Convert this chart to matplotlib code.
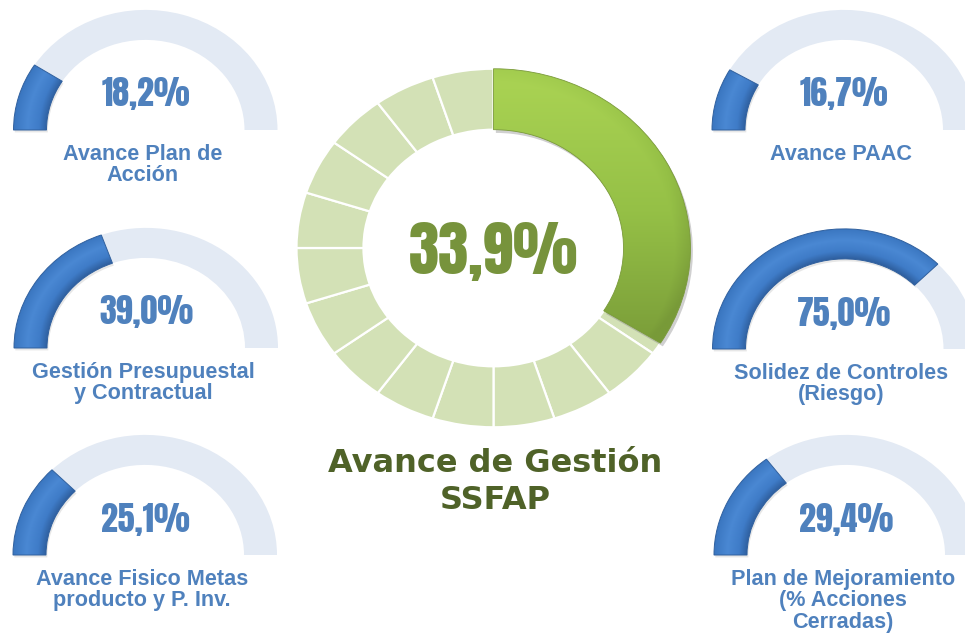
import numpy as np
import matplotlib
matplotlib.use("Agg")
import matplotlib.pyplot as plt
from matplotlib import font_manager as fm
from matplotlib.colors import LinearSegmentedColormap

# --- data ---------------------------------------------------------------
gauge_labels = ["Avance Plan de\nAcción",
                "Gestión Presupuestal\ny Contractual",
                "Avance Fisico Metas\nproducto y P. Inv.",
                "Avance PAAC",
                "Solidez de Controles\n(Riesgo)",
                "Plan de Mejoramiento\n(% Acciones\nCerradas)"]
gauge_values = [18.2, 39.0, 25.1, 16.7, 75.0, 29.4]

total_label = "Avance de Gestión\nSSFAP"
total_value = 33.9
n_segments = 20

# --- layout (pixels) ------------------------------------------------------
W, H = 965, 633
gauge_cx = [145.5, 146, 145, 844, 844.5, 846]
gauge_base = [130, 348, 555, 130, 349, 555]
R_gauge = 132
squash = 0.91

blue_txt = "#4F81BD"
gauge_bg = "#E3EAF4"
light_green = "#D3E1B6"

# condensed heavy face for the numbers (Impact look-alike if available)
installed = {f.name for f in fm.fontManager.ttflist}
num_font, num_weight = "DejaVu Sans", "bold"
for name, wt in [("Anton", "normal"), ("Oswald", "bold"),
                 ("Roboto Condensed", "bold"), ("Archivo Narrow", "bold")]:
    if name in installed:
        num_font, num_weight = name, wt
        break

fig = plt.figure(figsize=(W / 100, H / 100), dpi=100)


def px_axes(cx, cy, rx, ry):
    return fig.add_axes([(cx - rx) / W, 1 - (cy + ry) / H, 2 * rx / W, 2 * ry / H])


def px_text(x, y, s, **kw):
    return fig.text(x / W, 1 - y / H, s, ha="center", va="center", **kw)


def fmt(v):
    return f"{v:.1f}%".replace(".", ",")


def finish(ax):
    ax.set_aspect("auto")
    ax.set_xlim(-1, 1)
    ax.set_ylim(-1, 1)
    ax.axis("off")


# radial bevel shading for the blue arcs
blue_cmap = LinearSegmentedColormap.from_list(
    "bevel", [(0, "#2F60A0"), (0.25, "#3F7CC8"), (0.6, "#4A88D3"), (1, "#3A76C0")])
g = np.linspace(-1, 1, 400)
gx, gy = np.meshgrid(g, g)
rr = np.hypot(gx, gy)

for i in range(6):
    v = gauge_values[i]
    ax = px_axes(gauge_cx[i], gauge_base[i], R_gauge, R_gauge * squash)
    # soft shadow
    ax.pie([v, 200 - v], startangle=180, counterclock=False,
           colors=["#A0A0A0", "none"], center=(0.01, -0.02),
           wedgeprops=dict(width=0.25, edgecolor="none", alpha=0.25))
    wedges, _ = ax.pie([v, 100 - v, 100], startangle=180, counterclock=False,
                       colors=["none", gauge_bg, "none"],
                       wedgeprops=dict(width=0.25, edgecolor="none"))
    t = np.clip((rr - 0.75) / 0.25, 0, 1)
    im = ax.imshow(t, extent=(-1, 1, -1, 1), origin="lower", aspect="auto",
                   cmap=blue_cmap, vmin=0, vmax=1, zorder=3)
    im.set_clip_path(wedges[0])
    wedges[0].set_edgecolor("#30609E")
    wedges[0].set_linewidth(0.7)
    wedges[0].set_zorder(4)
    finish(ax)

    px_text(gauge_cx[i], gauge_base[i] - 36, fmt(v), color=blue_txt,
            fontsize=24.5, fontweight=num_weight, family=num_font)
    n_lines = gauge_labels[i].count("\n") + 1
    px_text(gauge_cx[i] - 3, gauge_base[i] + 24 + (n_lines - 1) * 10.8,
            gauge_labels[i], color=blue_txt, fontsize=15.6, fontweight="bold",
            family="Liberation Sans", linespacing=1.03)

# --- central doughnut -------------------------------------------------------
cx, cy, R = 493.5, 248, 197
ax = px_axes(cx, cy, R, R * squash)
ax.pie([100 / n_segments] * n_segments, startangle=90, counterclock=False,
       colors=[light_green] * n_segments,
       wedgeprops=dict(width=0.34, edgecolor="white", linewidth=1.6))
ax.pie([total_value, 100 - total_value], startangle=90, counterclock=False,
       colors=["#8A8A8A", "none"], center=(0.012, -0.018),
       wedgeprops=dict(width=0.34, edgecolor="none", alpha=0.4))
gw, _ = ax.pie([total_value, 100 - total_value], startangle=90, counterclock=False,
               colors=["none", "none"],
               wedgeprops=dict(width=0.34, edgecolor="none"))
green_cmap = LinearSegmentedColormap.from_list(
    "green", [(0, "#789A38"), (0.5, "#95C046"), (1, "#ABD454")])
vert = (gy + 0.6) / 1.6
shade = np.clip(vert, 0, 1) - 0.2 * np.clip((rr - 0.92) / 0.08, 0, 1)
im = ax.imshow(shade, extent=(-1, 1, -1, 1), origin="lower", aspect="auto",
               cmap=green_cmap, vmin=0, vmax=1, zorder=3)
im.set_clip_path(gw[0])
gw[0].set_edgecolor("#7A9A3A")
gw[0].set_linewidth(0.6)
gw[0].set_zorder(4)
finish(ax)

px_text(cx, cy + 3, fmt(total_value), color="#77933C", fontsize=44,
        fontweight=num_weight, family=num_font)
px_text(cx + 2, 482, total_label, color="#4F6228", fontsize=23,
        fontweight="bold", family="DejaVu Sans", linespacing=1.22)

fig.savefig("out.png", dpi=100)
